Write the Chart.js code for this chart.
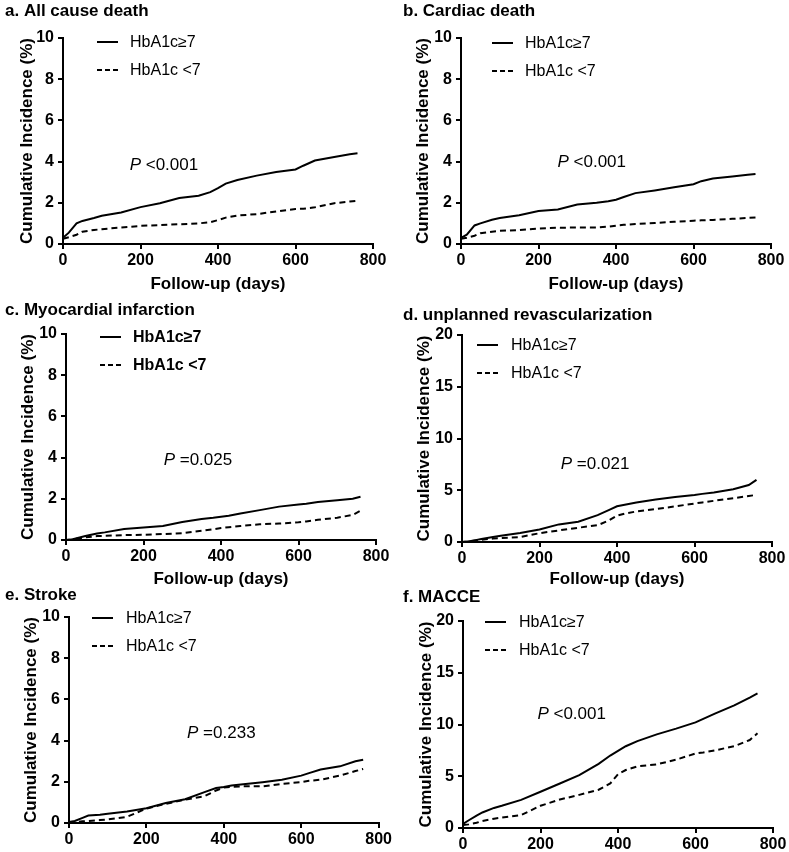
<!DOCTYPE html>
<html>
<head>
<meta charset="utf-8">
<script src="https://cdn.jsdelivr.net/npm/chart.js@4"></script>
<style>
  body { margin: 0; background: #fff; }
  #wrap { position: relative; width: 789px; height: 852px; }
  canvas { position: absolute; }
</style>
</head>
<body>
<div id="wrap">
  <canvas id="pa" width="394" height="300" style="left:0;top:0"></canvas>
  <canvas id="pb" width="394" height="300" style="left:395px;top:0"></canvas>
  <canvas id="pc" width="394" height="300" style="left:0;top:290px"></canvas>
  <canvas id="pd" width="394" height="300" style="left:395px;top:290px"></canvas>
  <canvas id="pe" width="394" height="272" style="left:0;top:580px"></canvas>
  <canvas id="pf" width="394" height="272" style="left:395px;top:580px"></canvas>
</div>
<script>
const days = [0, 15, 35, 50, 80, 100, 150, 200, 250, 300, 350, 380, 400, 420, 450, 500, 550, 600, 620, 650, 700, 740, 760];
const groups = ['HbA1c≥7', 'HbA1c <7'];
const xTicks = [0, 200, 400, 600, 800];

// a. all cause death
const allHigh = [0.3, 0.55, 1.0, 1.12, 1.26, 1.37, 1.53, 1.79, 1.98, 2.23, 2.34, 2.52, 2.71, 2.93, 3.11, 3.32, 3.5, 3.62, 3.8, 4.05, 4.22, 4.36, 4.4];
const allLow = [0.25, 0.33, 0.45, 0.6, 0.68, 0.72, 0.8, 0.88, 0.92, 0.96, 1.0, 1.06, 1.16, 1.28, 1.38, 1.45, 1.58, 1.7, 1.71, 1.78, 1.98, 2.06, 2.1];
// b. cardiac death
const cardHigh = [0.3, 0.45, 0.9, 1.0, 1.18, 1.26, 1.4, 1.6, 1.68, 1.92, 2.0, 2.08, 2.15, 2.28, 2.47, 2.6, 2.75, 2.9, 3.05, 3.18, 3.28, 3.36, 3.4];
const cardLow = [0.25, 0.3, 0.4, 0.52, 0.6, 0.64, 0.68, 0.75, 0.79, 0.8, 0.8, 0.84, 0.89, 0.93, 0.97, 1.02, 1.08, 1.13, 1.15, 1.17, 1.22, 1.27, 1.29];
// c. myocardial infarction
const miHigh = [0, 0.03, 0.12, 0.19, 0.32, 0.37, 0.53, 0.61, 0.68, 0.87, 1.02, 1.08, 1.13, 1.18, 1.29, 1.45, 1.62, 1.72, 1.76, 1.84, 1.93, 2.0, 2.1];
const miLow = [0, 0.03, 0.08, 0.13, 0.19, 0.2, 0.24, 0.25, 0.29, 0.33, 0.45, 0.52, 0.58, 0.62, 0.68, 0.76, 0.8, 0.86, 0.9, 0.98, 1.08, 1.22, 1.42];
// d. unplanned revascularization
const revHigh = [0, 0.06, 0.18, 0.28, 0.48, 0.6, 0.86, 1.2, 1.7, 1.95, 2.6, 3.1, 3.45, 3.6, 3.82, 4.1, 4.35, 4.55, 4.65, 4.78, 5.1, 5.5, 6.0];
const revLow = [0, 0.05, 0.15, 0.22, 0.33, 0.38, 0.48, 0.85, 1.12, 1.38, 1.62, 2.1, 2.55, 2.75, 2.95, 3.18, 3.44, 3.72, 3.82, 3.98, 4.22, 4.45, 4.55];
// e. stroke
const strokeHigh = [0.05, 0.1, 0.25, 0.36, 0.4, 0.45, 0.56, 0.72, 0.97, 1.15, 1.5, 1.7, 1.75, 1.82, 1.88, 1.98, 2.1, 2.3, 2.42, 2.6, 2.75, 3.0, 3.07];
const strokeLow = [0, 0.03, 0.08, 0.09, 0.14, 0.17, 0.3, 0.7, 0.93, 1.13, 1.3, 1.58, 1.72, 1.76, 1.78, 1.78, 1.9, 1.98, 2.05, 2.1, 2.3, 2.52, 2.62];
// f. MACCE
const macceHigh = [0.4, 0.75, 1.2, 1.5, 1.94, 2.15, 2.72, 3.5, 4.3, 5.1, 6.2, 7.0, 7.45, 7.9, 8.4, 9.05, 9.6, 10.2, 10.55, 11.05, 11.85, 12.6, 13.0];
const macceLow = [0.3, 0.35, 0.5, 0.68, 0.9, 1.0, 1.25, 2.15, 2.75, 3.2, 3.7, 4.3, 5.2, 5.6, 5.95, 6.15, 6.6, 7.2, 7.3, 7.5, 7.9, 8.5, 9.15];

const FONT = "'Liberation Sans', Arial, sans-serif";

// legend drawn inside the plot, line sample + label
Chart.register({
  id: 'kmLegend',
  afterDraw(chart, args, o) {
    const {ctx, chartArea} = chart;
    chart.data.datasets.forEach((ds, i) => {
      const y = chartArea.top + o.y + i * 28;
      const x = chartArea.left + o.x;
      ctx.save();
      ctx.strokeStyle = '#000';
      ctx.lineWidth = 2;
      ctx.setLineDash(ds.borderDash ? [5, 3] : []);
      ctx.beginPath();
      ctx.moveTo(x, y);
      ctx.lineTo(x + 21, y);
      ctx.stroke();
      ctx.setLineDash([]);
      ctx.fillStyle = '#000';
      ctx.font = (o.bold ? 'bold ' : '') + '16px ' + FONT;
      ctx.textBaseline = 'middle';
      ctx.fillText(ds.label, chartArea.left + o.tx, y + 1);
      ctx.restore();
    });
  }
});

// p value label, placed in data units
Chart.register({
  id: 'pText',
  afterDraw(chart, args, o) {
    if (!o.text) return;
    const ctx = chart.ctx;
    const x = chart.scales.x.getPixelForValue(o.at[0]);
    const y = chart.scales.y.getPixelForValue(o.at[1]);
    ctx.save();
    ctx.fillStyle = '#000';
    ctx.textBaseline = 'middle';
    ctx.font = 'italic 17px ' + FONT;
    ctx.fillText('P', x, y);
    const w = ctx.measureText('P').width;
    ctx.font = '17px ' + FONT;
    ctx.fillText(' ' + o.text, x + w, y);
    ctx.restore();
  }
});

function panel(id, p) {
  new Chart(document.getElementById(id), {
    type: 'line',
    data: {
      datasets: [
        { label: groups[0], data: days.map((d, i) => ({ x: d, y: p.high[i] })), borderColor: '#000', borderWidth: 2, pointRadius: 0, tension: 0, fill: false },
        { label: groups[1], data: days.map((d, i) => ({ x: d, y: p.low[i] })), borderColor: '#000', borderWidth: 2, borderDash: [6, 4], pointRadius: 0, tension: 0, fill: false }
      ]
    },
    options: {
      responsive: false,
      animation: false,
      layout: { padding: { left: p.padL, right: p.padR, top: 0, bottom: 0 } },
      plugins: {
        legend: { display: false },
        tooltip: { enabled: false },
        title: {
          display: true, text: p.title, align: 'start', color: '#000',
          font: { family: FONT, size: 17, weight: 'bold' },
          padding: { top: p.titleTop - 1, bottom: p.titleBottom - 1.4 }
        },
        kmLegend: p.legend,
        pText: { text: p.pval, at: p.pAt }
      },
      scales: {
        x: {
          type: 'linear', min: 0, max: 800,
          afterBuildTicks: s => { s.ticks = xTicks.map(v => ({ value: v })); },
          afterFit: s => { s.height = p.xH; },
          ticks: { color: '#000', padding: 2, maxRotation: 0, font: { family: FONT, size: 16, weight: 'bold' } },
          grid: { drawOnChartArea: false, color: '#000', lineWidth: 2, tickLength: 5 },
          border: { color: '#000', width: 2 },
          title: {
            display: p.xTitle, text: 'Follow-up (days)', color: '#000',
            font: { family: FONT, size: 17, weight: 'bold' }, padding: { top: 0, bottom: Math.max(p.xTitlePad - 1, 0) }
          }
        },
        y: {
          min: 0, max: p.yMax,
          afterBuildTicks: s => { s.ticks = p.yTicks.map(v => ({ value: v })); },
          afterFit: s => { s.width = p.yW; },
          ticks: { color: '#000', padding: 4, font: { family: FONT, size: 16, weight: 'bold' } },
          grid: { drawOnChartArea: false, color: '#000', lineWidth: 2, tickLength: 5 },
          border: { color: '#000', width: 2 },
          title: {
            display: true, text: 'Cumulative Incidence (%)', color: '#000',
            font: { family: FONT, size: 17, weight: 'bold' }, padding: { top: p.yTitlePad - 1, bottom: 0 }
          }
        }
      }
    }
  });
}

const ten = [0, 2, 4, 6, 8, 10];
const twenty = [0, 5, 10, 15, 20];

panel('pa', { title: 'a. All cause death', high: allHigh, low: allLow, yMax: 10, yTicks: ten,
  padL: 5, padR: 21, titleTop: 2, titleBottom: 18, yW: 58, yTitlePad: 13, xH: 56, xTitle: true, xTitlePad: 6,
  legend: { x: 34, y: 4, tx: 67 }, pval: '<0.001', pAt: [172, 3.8] });
panel('pb', { title: 'b. Cardiac death', high: cardHigh, low: cardLow, yMax: 10, yTicks: ten,
  padL: 8, padR: 18, titleTop: 2, titleBottom: 18, yW: 58, yTitlePad: 11, xH: 56, xTitle: true, xTitlePad: 6,
  legend: { x: 31, y: 5, tx: 64 }, pval: '<0.001', pAt: [249, 3.95] });
panel('pc', { title: 'c. Myocardial infarction', high: miHigh, low: miLow, yMax: 10, yTicks: ten,
  padL: 5, padR: 18, titleTop: 11, titleBottom: 15, yW: 61, yTitlePad: 14, xH: 50, xTitle: true, xTitlePad: 1,
  legend: { x: 34, y: 3, tx: 67, bold: true }, pval: '=0.025', pAt: [252, 3.88] });
panel('pd', { title: 'd. unplanned revascularization', high: revHigh, low: revLow, yMax: 20, yTicks: twenty,
  padL: 8, padR: 17, titleTop: 16, titleBottom: 11, yW: 59, yTitlePad: 12, xH: 48, xTitle: true, xTitlePad: 1,
  legend: { x: 15, y: 10, tx: 49 }, pval: '=0.021', pAt: [255, 7.5] });
panel('pe', { title: 'e. Stroke', high: strokeHigh, low: strokeLow, yMax: 10, yTicks: ten,
  padL: 5, padR: 15, titleTop: 6, titleBottom: 13, yW: 64, yTitlePad: 17, xH: 29, xTitle: false, xTitlePad: 0,
  legend: { x: 23, y: 1, tx: 57 }, pval: '=0.233', pAt: [305, 4.37] });
panel('pf', { title: 'f. MACCE', high: macceHigh, low: macceLow, yMax: 20, yTicks: twenty,
  padL: 8, padR: 16, titleTop: 8, titleBottom: 15, yW: 60, yTitlePad: 14, xH: 24, xTitle: false, xTitlePad: 0,
  legend: { x: 22, y: 1, tx: 56 }, pval: '<0.001', pAt: [192, 11.0] });
</script>
</body>
</html>
